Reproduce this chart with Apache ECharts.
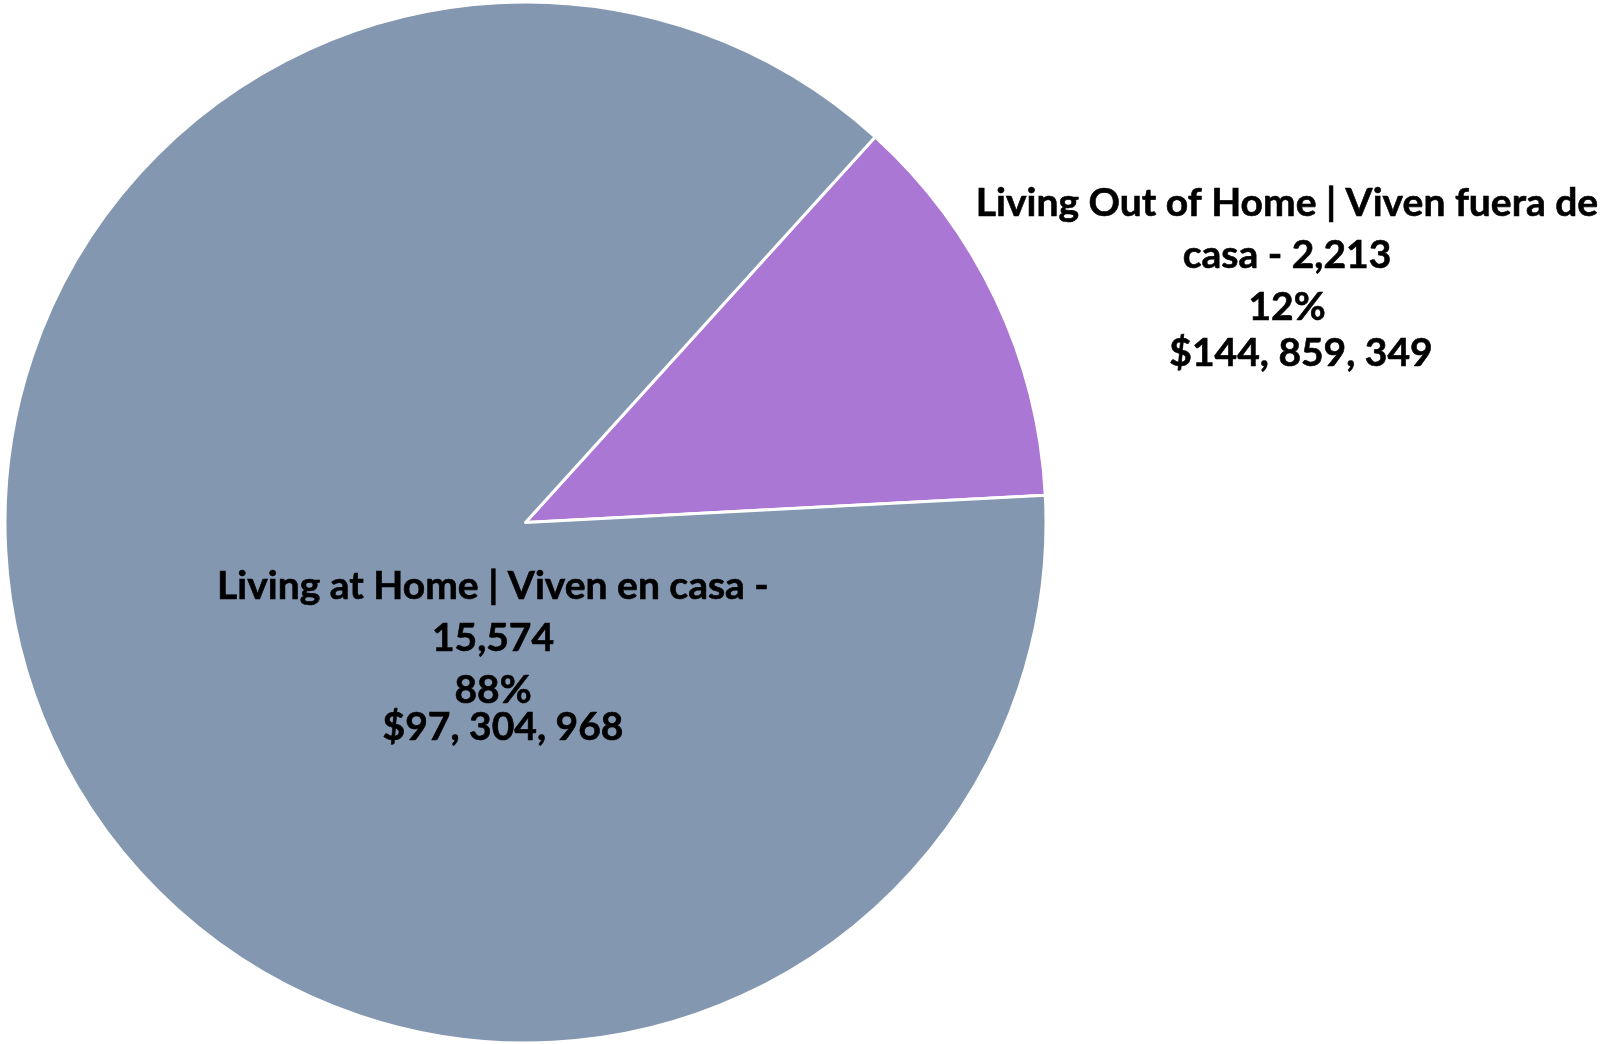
<!DOCTYPE html>
<html>
<head>
<meta charset="utf-8">
<script src="https://cdn.jsdelivr.net/npm/echarts@6/dist/echarts.min.js"></script>
<style>
html,body{margin:0;padding:0;background:#fff;}
#main{width:1607px;height:1044px;}
</style>
</head>
<body>
<div id="main"></div>
<script>
// Data
const categories = ['Living Out of Home | Viven fuera de casa', 'Living at Home | Viven en casa'];
const counts = [2213, 15574];
const amounts = ['$144, 859, 349', '$97, 304, 968'];
const colors = ['#AB77D4', '#8497B0'];
// number of trailing words moved to the second line
const wrapWords = [3, 1];
// label anchor (top-center of label block)
const labelPos = [[1287, 177], [493, 560]];
const lastLineHeight = [40, 22];

const chart = echarts.init(document.getElementById('main'));

function fmt(p) {
  const i = p.dataIndex;
  const full = p.name + ' - ' + p.value.toLocaleString('en-US');
  const words = full.split(' ');
  const n = wrapWords[i];
  const l1 = words.slice(0, words.length - n).join(' ');
  const l2 = words.slice(words.length - n).join(' ');
  return '{a|' + l1 + '}\n{a|' + l2 + '}\n{a|' + Math.round(p.percent) + '%}\n{b' + i + '|' + amounts[i] + '}';
}

const FONT = 'Lato';
const FS = 39;
const base = { fontFamily: FONT, fontWeight: 'bold', fontSize: FS, color: '#000', align: 'center', textBorderColor: '#000', textBorderWidth: 0.6 };

chart.setOption({
  animation: false,
  backgroundColor: '#ffffff',
  series: [{
    type: 'pie',
    center: [525.5, 522.5],
    radius: [0, 520.5],
    startAngle: 47.8,
    clockwise: true,
    percentPrecision: 0,
    avoidLabelOverlap: false,
    itemStyle: { borderColor: '#ffffff', borderWidth: 3 },
    label: Object.assign({
      show: true,
      position: 'inside',
      formatter: fmt,
      rich: {
        a: Object.assign({}, base, { lineHeight: 52 }),
        b0: Object.assign({}, base, { lineHeight: lastLineHeight[0], padding: [0, 0, 0, 28] }),
        b1: Object.assign({}, base, { lineHeight: lastLineHeight[1], padding: [0, 0, 0, 20] })
      }
    }, base),
    labelLine: { show: false },
    labelLayout: function (params) {
      const i = params.dataIndex;
      return { x: labelPos[i][0], y: labelPos[i][1], align: 'center', verticalAlign: 'top', hideOverlap: false };
    },
    data: categories.map((c, i) => ({ name: c, value: counts[i], itemStyle: { color: colors[i] } }))
  }]
});
</script>
</body>
</html>
